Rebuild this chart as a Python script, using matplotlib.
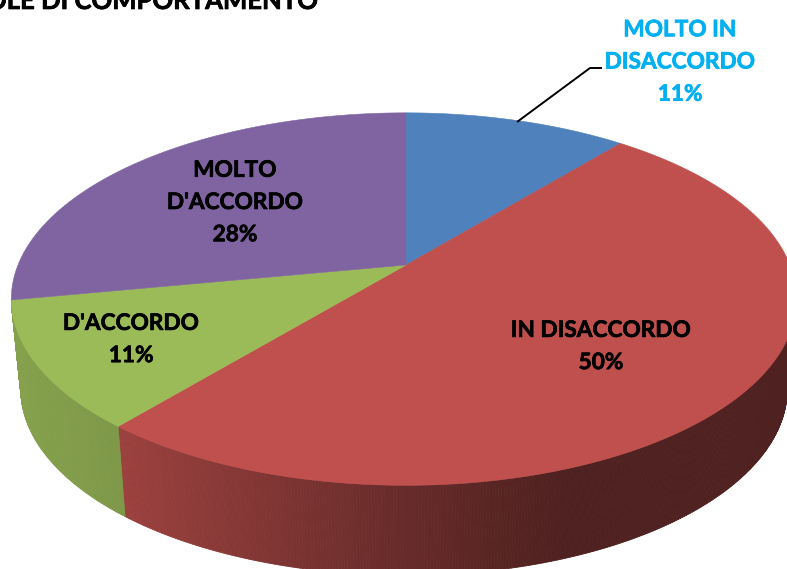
"""3D-looking pie chart, perspective disc drawn on a pixel-sized axes."""
import matplotlib
matplotlib.use("Agg")
import matplotlib.patheffects as pe
import matplotlib.pyplot as plt
import numpy as np
from matplotlib.collections import PolyCollection
from matplotlib.colors import to_rgb

labels = ["MOLTO IN\nDISACCORDO", "IN DISACCORDO", "D'ACCORDO", "MOLTO\nD'ACCORDO"]
values = [11, 50, 11, 28]
colors = ["#4F81BD", "#C0504D", "#9BBB59", "#8064A2"]

TITLE = "REGOLE DI COMPORTAMENTO"

# rim shading along screen x
SHADE_X = [20, 117, 400, 560, 800]
SHADE_K = [0.86, 0.81, 0.54, 0.41, 0.41]


def top_rim(theta):
    # theta clockwise from 12 o'clock, perspective projection of the unit disc
    u, v = np.sin(theta), np.cos(theta)
    s = 1 / (1 + 0.183 * v)
    rx = np.where(u > 0, 384, 388)
    return 406 + rx * u * s, 265 - 180 * v * s


def low_rim(theta):
    x, y = top_rim(theta)
    return 406 + (x - 406) * 0.976, y + 90


plt.rcParams["font.family"] = ["Lato", "DejaVu Sans"]
fig = plt.figure(figsize=(7.87, 5.69), dpi=100)
ax = fig.add_axes([0, 0, 1, 1])
ax.set_xlim(0, 787)
ax.set_ylim(569, 0)
ax.axis("off")

edges = np.radians(np.concatenate([[0], np.cumsum(values)]) * 3.6)

# side wall, only the two front slices show one
for start, end, col in zip(edges[:-1], edges[1:], colors):
    if start > np.radians(250) or end < np.pi / 2:
        continue
    a = max(start, np.pi / 2)
    th = np.linspace(a, end, int((end - a) * 150) + 2)
    xt, yt = top_rim(th)
    xl, yl = low_rim(th)
    polys, face = [], []
    for i in range(len(th) - 1):
        polys.append([(xt[i], yt[i]), (xt[i + 1], yt[i + 1]),
                      (xl[i + 1], yl[i + 1]), (xl[i], yl[i])])
        k = np.interp((xt[i] + xt[i + 1]) / 2, SHADE_X, SHADE_K)
        face.append(np.array(to_rgb(col)) * k)
    ax.add_collection(PolyCollection(polys, facecolors=face, edgecolors=face, linewidths=0.6))

# top surface
for start, end, col in zip(edges[:-1], edges[1:], colors):
    th = np.linspace(start, end, 200)
    x, y = top_rim(th)
    ax.fill(np.r_[406, x], np.r_[265, y], color=col, lw=0.4)

# leader for the first slice
ax.plot([517, 590, 602], [122, 68, 68], color="black", lw=1.4, solid_capstyle="butt")


def label(x, y, text, color):
    t = ax.text(x, y, text, color=color, fontsize=16.3, fontweight="bold",
                ha="center", va="center", linespacing=1.66)
    t.set_path_effects([pe.withStroke(linewidth=0.5, foreground=color)])


label(680, 62, f"{labels[0]}\n{values[0]}%", "#00B0F0")
label(601, 346.5, f"{labels[1]}\n{values[1]}%", "black")
label(131, 339.5, f"{labels[2]}\n{values[2]}%", "black")
label(235, 202.5, f"{labels[3]}\n{values[3]}%", "black")

title = ax.text(320, 9, TITLE, fontsize=18.5, fontweight="bold", ha="right", va="baseline", color="black")
title.set_path_effects([pe.withStroke(linewidth=0.5, foreground="black")])

fig.savefig("out.png", dpi=100)
plt.close(fig)
